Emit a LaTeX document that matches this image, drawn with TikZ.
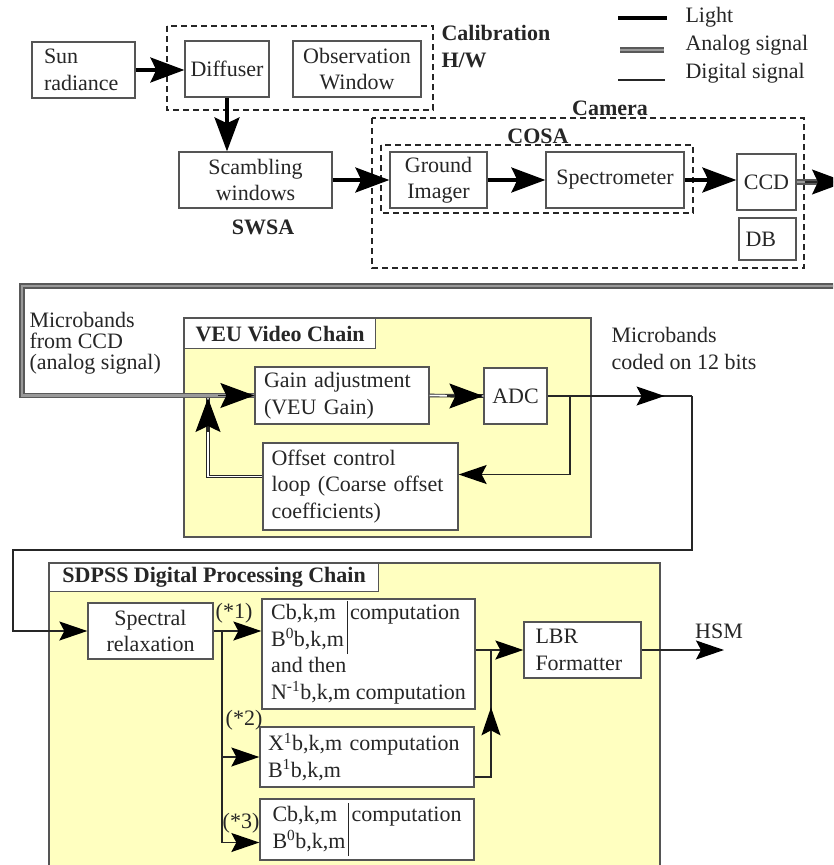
\documentclass[tikz,border=0pt]{standalone}
\usepackage{fontspec}
\setmainfont{Liberation Serif}
\usetikzlibrary{arrows.meta,positioning,calc,decorations.markings}
\definecolor{chainyellow}{RGB}{255,255,192}
\definecolor{frameline}{RGB}{85,85,85}
\setlength{\tabcolsep}{3pt}
\tikzset{every picture/.style={line width=1pt}}
\tikzset{
  txt/.style={font=\fontsize{22}{26.5}\selectfont, text=black!85, inner sep=0pt},
  bold/.style={txt, font=\fontsize{22}{27}\selectfont\bfseries},
  box/.style={txt, draw=frameline, fill=white, line width=1.3pt},
  boldbox/.style={box, font=\fontsize{22}{27}\selectfont\bfseries},
  group/.style={draw=black!85, dash pattern=on 6pt off 4pt, line width=1.3pt},
  chain/.style={draw=frameline, fill=chainyellow, line width=1.3pt},
  light/.style={draw=black, line width=3.4pt},
  ana/.style={draw=black!85, double=white, double distance=1.8pt, line width=0.9pt},
  anabig/.style={draw=black!65, double=black!40, double distance=2.2pt, line width=1.6pt},
  dig/.style={draw=black!85, line width=1.3pt},
  bigtip/.style={-{Stealth[length=34pt,width=25pt,inset=6pt,color=black]}},
  smalltip/.style={-{Stealth[length=28pt,width=19pt,inset=5pt,color=black]}},
  midtip/.style={postaction={decorate,decoration={markings,
    mark=at position #1 with {\arrow{Stealth[length=28pt,width=19pt,inset=5pt,color=black]}}}}},
}

\begin{document}
\begin{tikzpicture}[x=1pt,y=-1pt]
    \useasboundingbox (0,0) rectangle (833,865);
    \clip (0,0) rectangle (833,865);
    \fill[white] (0,0) rectangle (833,865);

    % 绘制 校准硬件
    \draw[group] (167,26) rectangle (433,110);
    \node[box, minimum width=103pt, minimum height=56pt, text width=79pt, align=left] (sun) at (83.5,70) {Sun\\radiance};
    \node[box, minimum width=84pt, minimum height=56pt] (diffuser) at (227,69) {Diffuser};
    \node[box, minimum width=128pt, minimum height=56pt, align=center] (obswin) at (357,69) {Observation\\Window};
    \node[bold, anchor=west, align=left] (calib) at (441,47) {Calibration\\H/W};

    % 绘制 图例
    \node[txt, anchor=west] (lglight) at (685,17) {Light};
    \node[txt, anchor=west] (lganalog) at (685,45) {Analog signal};
    \node[txt, anchor=west] (lgdigital) at (685,73) {Digital signal};
    \draw[light] ([xshift=-18pt,yshift=-1pt]lglight.west) -- ++(-49,0);
    \draw[anabig] ([xshift=-21pt,yshift=-5pt]lganalog.west) -- ++(-44,0);
    \draw[dig] ([xshift=-20pt,yshift=-7pt]lgdigital.west) -- ++(-47,0);

    % 绘制 相机
    \draw[group] (372,118) rectangle (804,268);
    \node[bold] (camera) at (610,108) {Camera};
    \draw[group] (381,145) rectangle (693,213);
    \node[bold] (cosa) at (538,136) {COSA};
    \node[box, minimum width=153pt, minimum height=56pt, align=center] (scamb) at (255.5,180) {Scambling\\windows};
    \node[bold] (swsa) at (263,227) {SWSA};
    \node[box, minimum width=97pt, minimum height=56pt, align=center] (ground) at (438.5,180) {Ground\\Imager};
    \node[box, minimum width=138pt, minimum height=56pt] (spectro) at (615,180) {Spectrometer};
    \node[box, minimum width=59pt, minimum height=56pt] (ccd) at (766.5,182) {CCD};
    \node[box, minimum width=57pt, minimum height=42pt, text width=44pt, align=left] (db) at (767.5,239) {DB};
    \coordinate (ccdout) at (846,182);

    % 绘制 光路
    \draw[light, bigtip] (sun.east) -- (sun.east -| diffuser.west);
    \draw[light, bigtip] (diffuser.south) -- (diffuser.south |- scamb.north);
    \draw[light, bigtip] (scamb.east) -- (ground.west);
    \draw[light, bigtip] (ground.east) -- (spectro.west);
    \draw[light, bigtip] (spectro.east) -- (spectro.east -| ccd.west);
    \draw[anabig] (ccd.east) -- (ccdout);
    \draw[dig, bigtip] ([xshift=8pt]ccd.east) -- (ccdout);

    % 绘制 VEU 视频链
    \draw[chain] (184,318) rectangle (591,537);
    \node[boldbox, anchor=north west, minimum width=191pt, minimum height=30pt] (veutitle) at (184,318) {VEU Video Chain};
    \node[txt, anchor=west, align=left, font=\fontsize{22}{21}\selectfont] (microin) at (29,343) {Microbands\\from CCD\\(analog signal)};
    \node[box, minimum width=174pt, minimum height=57pt, text width=156pt, align=left] (gain) at (342,395.5) {Gain adjustment\\(VEU Gain)};
    \node[box, minimum width=63pt, minimum height=56pt] (adc) at (515.5,396) {ADC};
    \node[box, minimum width=195pt, minimum height=87pt, text width=178pt, align=left] (offset) at (360.5,486.5) {Offset control\\loop (Coarse offset\\coefficients)};
    \node[txt, anchor=west, align=left, font=\fontsize{22}{27}\selectfont] (microout) at (611,348) {Microbands\\coded on 12 bits};
    \coordinate (frameR) at (840,286);
    \coordinate (frameL) at (22,286);
    \coordinate (fbtop) at (208,398);
    \coordinate (tap) at (570,396);
    \coordinate (adcR) at (692,396);
    \coordinate (loopR) at (692,550);
    \coordinate (loopL) at (13,550);

    % 绘制 模拟信号
    \draw[anabig] (frameR) -- (frameL) |- (gain.west);
    \draw[dig, bigtip] ([xshift=-36pt]gain.west) -- (gain.west);
    \draw[ana] (gain.east) -- (adc.west);
    \draw[dig, bigtip] ([xshift=-36pt]adc.west) -- (adc.west);
    \draw[ana] ($(offset.west)+(0,-10)$) -| (fbtop);
    \draw[dig, bigtip] ([yshift=-34pt]fbtop) -- (fbtop);

    % 绘制 数字信号
    \draw[dig, midtip=0.81] (adc.east) -- (adcR);
    \draw[dig, smalltip] (tap) |- ($(offset.east)+(0,-12)$);

    % 绘制 SDPSS 数字处理链
    \draw[chain] (49,563) rectangle (660,880);
    \node[boldbox, anchor=north west, minimum width=329pt, minimum height=28pt] (sdpsstitle) at (49,563) {SDPSS Digital Processing Chain};
    \node[box, minimum width=125pt, minimum height=56pt, align=center] (spectral) at (150.5,631) {Spectral\\relaxation};
    \node[box, minimum width=213pt, minimum height=110pt] (cbkm1) at (368.5,654) {%
      \begin{tabular}{@{}l|l@{}}
        Cb,k,m & computation\\
        B\textsuperscript{0}b,k,m & \\
        \multicolumn{2}{@{}l@{}}{and then}\\
        \multicolumn{2}{@{}l@{}}{N\textsuperscript{-1}b,k,m computation}
      \end{tabular}};
    \node[box, minimum width=214pt, minimum height=60pt, text width=198pt, align=left] (xbkm) at (367,757) {X\textsuperscript{1}b,k,m computation\\B\textsuperscript{1}b,k,m};
    \node[box, minimum width=214pt, minimum height=61pt] (cbkm3) at (367,829.5) {%
      \begin{tabular}{@{}l|l@{}}
        Cb,k,m & computation\\
        B\textsuperscript{0}b,k,m &
      \end{tabular}};
    \node[box, minimum width=117pt, minimum height=56pt, text width=94pt, align=left] (lbr) at (582.5,650) {LBR\\Formatter};
    \node[txt] (hsm) at (719,631) {HSM};
    \node[txt] (star1) at (234,613) {(*1)};
    \node[txt] (star2) at (244,720) {(*2)};
    \node[txt] (star3) at (241,823) {(*3)};
    \coordinate (split) at (222,631);
    \coordinate (merge) at (491,650);
    \coordinate (hsmend) at (724,650);

    % 绘制 处理链连线
    \draw[dig, smalltip] (adcR) -- (loopR) -- (loopL) |- (spectral.west);
    \draw[dig, smalltip] (spectral.east) -- (spectral.east -| cbkm1.west);
    \draw[dig, smalltip] (split) |- (xbkm.west);
    \draw[dig, smalltip] (split) |- ($(cbkm3.west)+(0,13)$);
    \draw[dig, smalltip] (cbkm1.east |- lbr.west) -- (lbr.west);
    \draw[dig, midtip=0.6] ($(xbkm.east)+(0,20)$) -| (merge);
    \draw[dig, smalltip] (lbr.east) -- (hsmend);
\end{tikzpicture}
\end{document}
